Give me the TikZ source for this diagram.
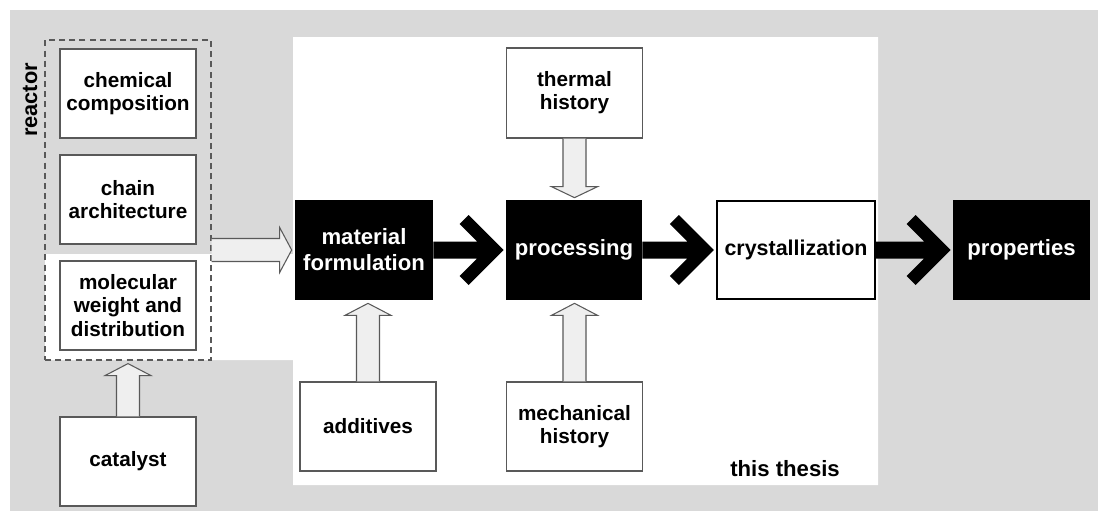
\documentclass[tikz,border=0pt]{standalone}
\usepackage{fontspec}
\setmainfont{Liberation Sans}
\usetikzlibrary{calc}

\definecolor{bggray}{HTML}{D9D9D9}
\definecolor{boxline}{HTML}{595959}
\definecolor{hollowfill}{HTML}{EFEFEF}

\tikzset{
  factor/.style={draw=boxline,fill=white,line width=0.6pt,inner sep=0pt,
    minimum width=2.72cm,minimum height=1.78cm,align=center,
    font=\fontsize{11.8}{13.2}\selectfont\bfseries},
  stage/.style={fill=black,text=white,inner sep=0pt,minimum width=2.74cm,
    minimum height=2cm,align=center,font=\fontsize{12.6}{14.8}\selectfont\bfseries},
  hollow/.style={draw=boxline,fill=hollowfill,line width=0.6pt,line join=miter},
}

% light arrow pointing up from #1 into #2
\newcommand{\hollowup}[2]{%
  \coordinate (tip) at ($(#1.north |- #2.south)+(0,3)$);
  \filldraw[hollow] ($(#1.north)+(-11.5,0)$) -- ($(tip)+(-11.5,12)$) -- ++(-11.5,0)
    -- (tip) -- ++(23,12) -- ++(-11.5,0) -- ($(#1.north)+(11.5,0)$);
}
% light arrow pointing down from #1 into #2
\newcommand{\hollowdown}[2]{%
  \coordinate (tip) at ($(#1.south |- #2.north)+(0,-2)$);
  \filldraw[hollow] ($(#1.south)+(-11.5,0)$) -- ($(tip)+(-11.5,-11)$) -- ++(-11.5,0)
    -- (tip) -- ++(23,-11) -- ++(-11.5,0) -- ($(#1.south)+(11.5,0)$);
}
% light arrow pointing right from #1 into #2
\newcommand{\hollowright}[2]{%
  \coordinate (tip) at ($(#2.west)+(-3,0)$);
  \filldraw[hollow] ($(#1.east |- #2.west)+(0,-11.5)$) -- ($(tip)+(-12,-11.5)$) -- ++(0,-11)
    -- (tip) -- ++(-12,22.5) -- ++(0,-11) -- ($(#1.east |- #2.west)+(0,11.5)$);
}
% heavy black arrow with open chevron head
\newcommand{\stagearrow}[2]{%
  \fill ($(#1.east)+(0,-8.5)$) -- ($(#2.west)+(-28.5,-8.5)$) -- ++(-17.5,-17.5) -- ++(9,-9)
    -- ($(#2.west)+(-2,0)$) -- ++(-35,35) -- ++(-9,-9) -- ++(17.5,-17.5)
    -- ($(#1.east)+(0,8.5)$) -- cycle;
}

\begin{document}
\begin{tikzpicture}[x=0.02cm,y=-0.02cm]
  \useasboundingbox (0,0) rectangle (1098,511);
  \fill[bggray] (10,10) rectangle (1098,511);
  \fill[white] (293,37) -- (878,37) -- (878,485) -- (293,485) -- (293,360)
    -- (45,360) -- (45,254) -- (293,254) -- cycle;

  \node[draw=boxline,dash pattern=on 3.4pt off 2.4pt,line width=0.7pt,inner sep=0pt,
    minimum width=3.32cm,minimum height=6.4cm] (reactor) at (128,200) {};
  \node[rotate=90,font=\fontsize{12.4}{14}\selectfont\bfseries] (reactorlabel) at (30,100) {reactor};

  \node[factor] (chem) at (128,93.5) {chemical\\composition};
  \node[factor] (chain) at (128,199.5) {chain\\architecture};
  \node[factor] (molwt) at (128,305.5) {molecular\\weight and\\distribution};
  \node[factor] (catalyst) at (128,461.5) {catalyst};

  \node[stage,minimum width=2.76cm] (mat) at (364,250) {material\\formulation};
  \node[stage,minimum width=2.72cm] (proc) at (574,250) {processing};
  \node[factor,draw=black,line width=1.2pt,minimum width=3.16cm,minimum height=1.96cm,
    font=\fontsize{12.2}{14}\selectfont\bfseries] (cryst) at (796,250) {crystallization};
  \node[stage] (prop) at (1021.5,250) {properties};

  \node[factor,minimum height=1.8cm] (thermal) at (574.5,93) {thermal\\history};
  \node[factor] (additives) at (368,426.5) {additives};
  \node[factor] (mech) at (574.5,426.5) {mechanical\\history};

  \node[anchor=east,font=\fontsize{12.6}{14}\selectfont\bfseries] (thesis) at (846,469) {this thesis};

  \hollowright{reactor}{mat}
  \hollowup{catalyst}{reactor}
  \hollowup{additives}{mat}
  \hollowup{mech}{proc}
  \hollowdown{thermal}{proc}

  \stagearrow{mat}{proc}
  \stagearrow{proc}{cryst}
  \stagearrow{cryst}{prop}
\end{tikzpicture}
\end{document}
